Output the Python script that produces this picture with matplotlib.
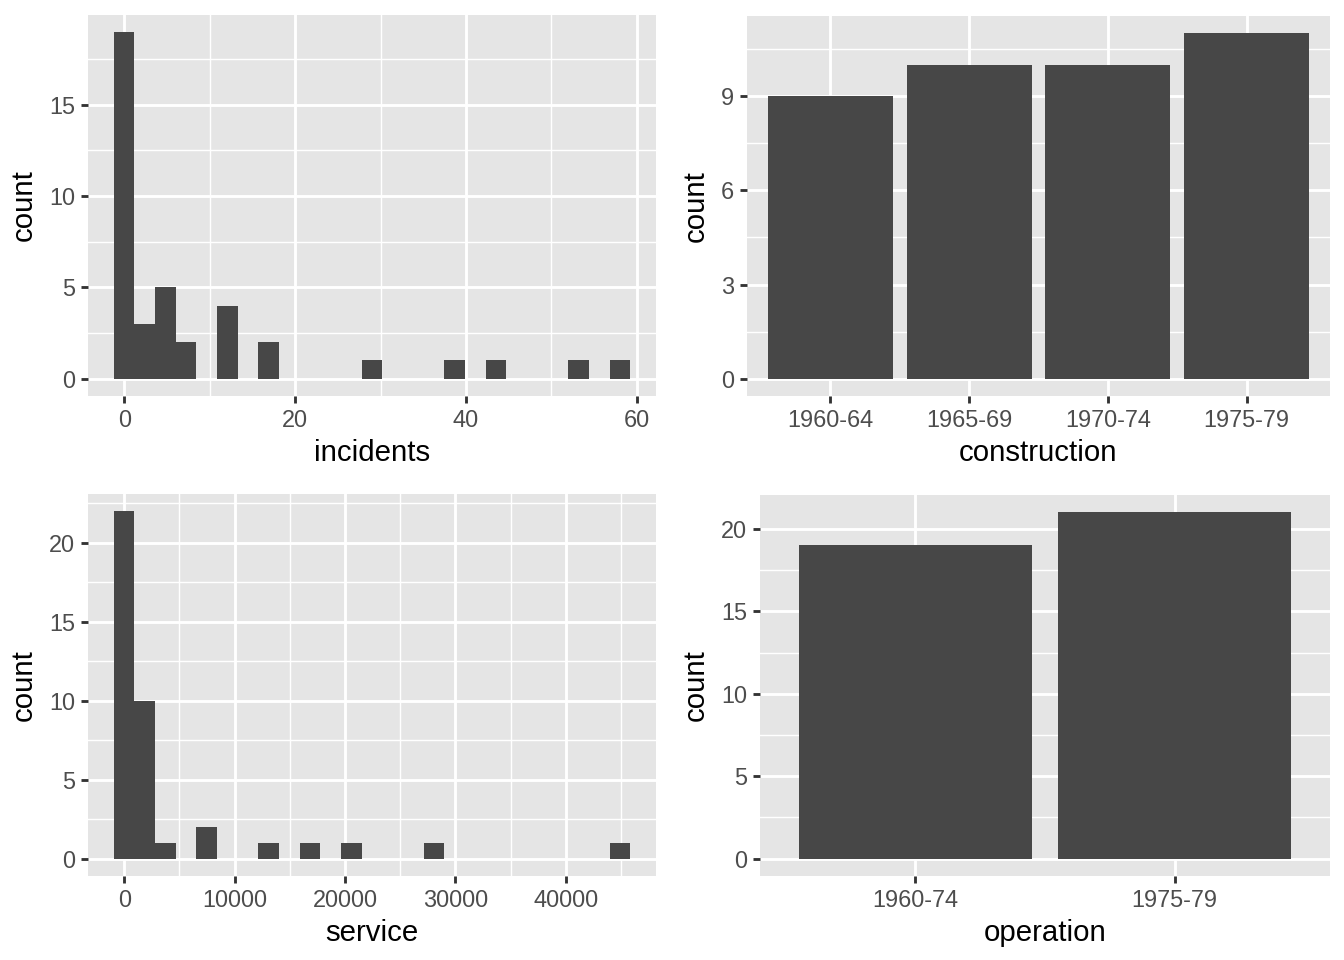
import numpy as np
import matplotlib
matplotlib.use("Agg")
import matplotlib.pyplot as plt
from matplotlib.ticker import MultipleLocator, FixedLocator

plt.rcParams['font.family'] = ['Liberation Sans', 'DejaVu Sans']

# ---- data ----
# incidents histogram: 25 bins, centers from 0 to 58
inc_min, inc_max = 0, 58
inc_counts = [19, 3, 5, 2, 0, 4, 0, 2, 0, 0, 0, 0, 1, 0, 0, 0, 1, 0, 1, 0, 0, 0, 1, 0, 1]
# service histogram: 25 bins, centers from 0 to 44882
srv_min, srv_max = 0, 44882
srv_counts = [22, 10, 1, 0, 2, 0, 0, 1, 0, 1, 0, 1, 0, 0, 0, 1, 0, 0, 0, 0, 0, 0, 0, 0, 1]

construction = ["1960-64", "1965-69", "1970-74", "1975-79"]
construction_counts = [9, 10, 10, 11]
operation = ["1960-74", "1975-79"]
operation_counts = [19, 21]

BAR = "#474747"
PANEL = "#E5E5E5"
TICKTXT = "#4D4D4D"

fig = plt.figure(figsize=(7, 5), dpi=192)
W, H = 1344, 960

def ax_at(l, t, r, b):
    return fig.add_axes([l / W, 1 - b / H, (r - l) / W, (b - t) / H])

def style(ax):
    ax.set_facecolor(PANEL)
    for s in ax.spines.values():
        s.set_visible(False)
    ax.tick_params(axis='both', which='major', length=2.75, width=1.07, color='#333333',
                   labelsize=8.8, labelcolor=TICKTXT, pad=2.2)
    ax.tick_params(axis='both', which='minor', length=0)
    ax.grid(True, which='major', color='white', linewidth=1.07)
    ax.grid(True, which='minor', color='white', linewidth=0.53)
    ax.set_axisbelow(True)

def hist_panel(ax, vmin, vmax, counts, xlabel, xmaj, ymaj):
    n = len(counts)
    w = (vmax - vmin) / (n - 1)
    centers = vmin + w * np.arange(n)
    ax.bar(centers, counts, width=w, color=BAR, linewidth=0)
    lo, hi = vmin - w / 2, vmax + w / 2
    e = 0.05 * (hi - lo)
    ax.set_xlim(lo - e, hi + e)
    ym = max(counts)
    ax.set_ylim(-0.05 * ym, ym * 1.05)
    ax.xaxis.set_major_locator(MultipleLocator(xmaj))
    ax.xaxis.set_minor_locator(MultipleLocator(xmaj / 2))
    ax.yaxis.set_major_locator(MultipleLocator(ymaj))
    ax.yaxis.set_minor_locator(MultipleLocator(ymaj / 2))
    style(ax)
    ax.set_xlabel(xlabel, fontsize=11, labelpad=2.5)
    ax.set_ylabel("count", fontsize=11, labelpad=4)

def bar_panel(ax, cats, counts, xlabel, ymaj):
    x = np.arange(1, len(cats) + 1)
    ax.bar(x, counts, width=0.9, color=BAR, linewidth=0)
    ax.set_xlim(0.4, len(cats) + 0.6)
    ym = max(counts)
    ax.set_ylim(-0.05 * ym, ym * 1.05)
    ax.set_xticks(x)
    ax.set_xticklabels(cats)
    ax.yaxis.set_major_locator(MultipleLocator(ymaj))
    ax.yaxis.set_minor_locator(MultipleLocator(ymaj / 2))
    ax.xaxis.set_minor_locator(FixedLocator([]))
    style(ax)
    ax.grid(False, axis='x', which='minor')
    ax.set_xlabel(xlabel, fontsize=11, labelpad=2.5)
    ax.set_ylabel("count", fontsize=11, labelpad=4)

ax1 = ax_at(88, 14.5, 656, 396)
hist_panel(ax1, inc_min, inc_max, inc_counts, "incidents", 20, 5)

ax2 = ax_at(747, 16, 1330, 396)
bar_panel(ax2, construction, construction_counts, "construction", 3)

ax3 = ax_at(88, 494, 656, 876)
hist_panel(ax3, srv_min, srv_max, srv_counts, "service", 10000, 5)

ax4 = ax_at(760, 495, 1330, 876)
bar_panel(ax4, operation, operation_counts, "operation", 5)

fig.savefig("out.png", dpi=192, facecolor="white")
